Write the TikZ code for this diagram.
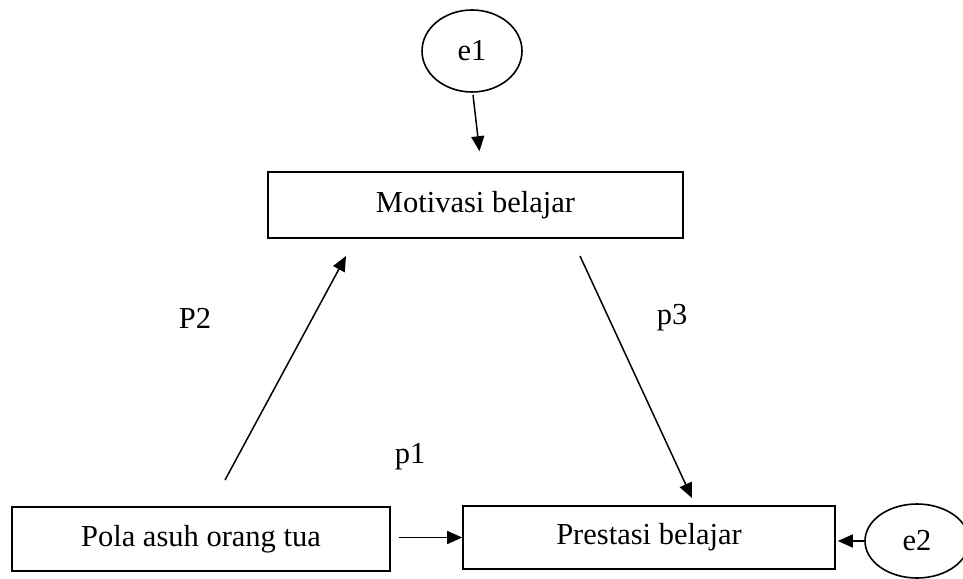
\documentclass[tikz,border=0pt]{standalone}
\usepackage{fontspec}
\setmainfont{Liberation Serif}
\usetikzlibrary{arrows.meta,shapes.geometric}
\begin{document}
\begin{tikzpicture}[x=1pt,y=-1pt,
  every node/.style={font=\fontsize{30.5}{36}\selectfont},
  box/.style={draw,line width=1.6pt,inner sep=0pt},
  err/.style={draw,ellipse,line width=1.6pt,inner sep=0pt},
  arr/.style={line width=1.5pt,-{Triangle[length=15pt,width=13pt]}},
  lbl/.style={inner sep=0pt}]
\useasboundingbox (0,0) rectangle (963,578);
\node[err,minimum width=100pt,minimum height=82pt] (e1) at (472,51) {e1};
\node[box,minimum width=415pt,minimum height=66pt] (mot) at (475.5,205) {Motivasi belajar};
\node[box,minimum width=378pt,minimum height=64pt] (pola) at (201,539) {Pola asuh orang tua};
\node[box,minimum width=372pt,minimum height=63pt] (pres) at (649,537.5) {Prestasi belajar};
\node[err,minimum width=104pt,minimum height=74pt] (e2) at (917,541) {e2};
\node[lbl] (lp2) at (195,318) {P2};
\node[lbl] (lp3) at (672,318) {p3};
\node[lbl] (lp1) at (410,457) {p1};
\coordinate (p2s) at (225,480);
\coordinate (p2e) at (346,256);
\coordinate (p3s) at (580,256);
\coordinate (p3e) at (692,498);
\draw[arr] (e1.south) ++(1,2) -- ([xshift=4pt,yshift=20pt]mot.north);
\draw[arr] (p2s) -- (p2e);
\draw[arr] (p3s) -- (p3e);
\draw[arr] ([xshift=8pt]pola.east |- pres.west) -- (pres.west);
\draw[arr] (e2.west) -- ([xshift=2pt]pres.east |- e2.west);
\end{tikzpicture}
\end{document}
